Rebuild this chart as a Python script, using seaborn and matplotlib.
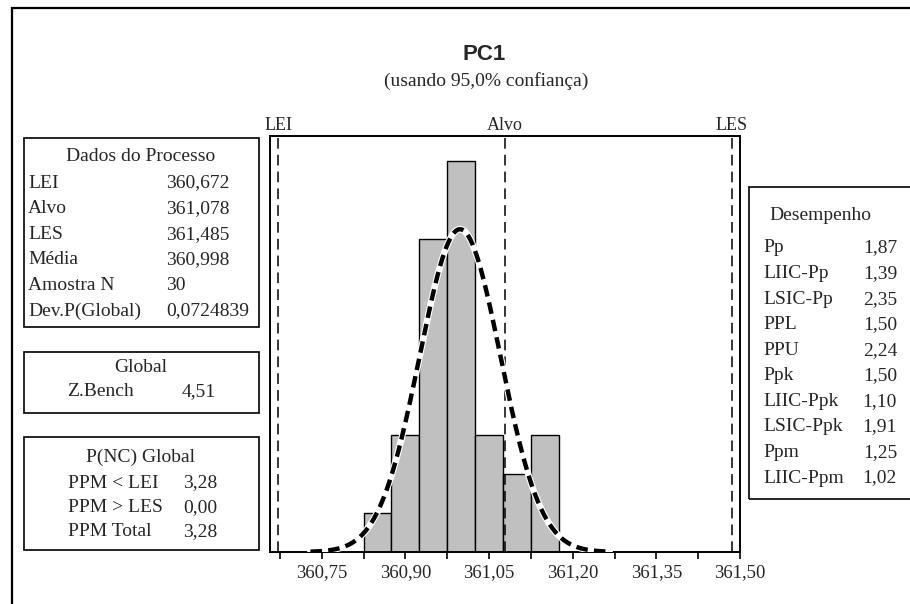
import numpy as np
import pandas as pd
import matplotlib
matplotlib.use("Agg")
import matplotlib.pyplot as plt
from matplotlib.patches import Rectangle
from matplotlib.ticker import FuncFormatter
import seaborn as sns

# ---- data ----
bin_centers = [360.85, 360.90, 360.95, 361.00, 361.05, 361.10, 361.15]
bin_counts = [1, 3, 8, 10, 3, 2, 3]
bin_width = 0.05

lei, alvo, les = 360.672, 361.078, 361.485
media, amostra_n, dev_global = 360.998, 30, 0.0724839

major_ticks = [360.75, 360.90, 361.05, 361.20, 361.35, 361.50]
minor_ticks = [360.675, 360.825, 360.975, 361.125, 361.275, 361.425]

proc_labels = ["LEI", "Alvo", "LES", "M\u00e9dia", "Amostra N", "Dev.P(Global)"]
proc_values = ["360,672", "361,078", "361,485", "360,998", "30", "0,0724839"]
global_labels = ["Z.Bench"]
global_values = ["4,51"]
pnc_labels = ["PPM < LEI", "PPM > LES", "PPM Total"]
pnc_values = ["3,28", "0,00", "3,28"]
perf_labels = ["Pp", "LIIC-Pp", "LSIC-Pp", "PPL", "PPU", "Ppk",
               "LIIC-Ppk", "LSIC-Ppk", "Ppm", "LIIC-Ppm"]
perf_values = ["1,87", "1,39", "2,35", "1,50", "2,24", "1,50",
               "1,10", "1,91", "1,25", "1,02"]

# ---- style ----
sns.set_style("white")
plt.rcParams["font.family"] = ["Liberation Serif", "DejaVu Serif"]

W, H = 910, 604
fig = plt.figure(figsize=(W / 100, H / 100), dpi=100)

def fx(px):
    return px / W

def fy(py):
    return 1 - py / H

# outer frame
fig.add_artist(Rectangle((fx(12), fy(640)), fx(960), fy(8) - fy(640),
                         transform=fig.transFigure, fill=False,
                         edgecolor="black", linewidth=1.6))

ax_l, ax_r, ax_t, ax_b = 270, 740, 136, 552
ax = fig.add_axes([fx(ax_l), fy(ax_b), fx(ax_r - ax_l), fy(ax_t) - fy(ax_b)])

df = pd.DataFrame({"x": bin_centers, "n": bin_counts})
edges = [c - bin_width / 2 for c in bin_centers] + [bin_centers[-1] + bin_width / 2]
sns.histplot(data=df, x="x", weights="n", bins=edges, ax=ax,
             color="#C0C0C0", edgecolor="black", linewidth=1.0, alpha=1.0)

# fitted normal curve (from the process mean / std dev in the table)
xs = np.linspace(media - 3.7 * dev_global, media + 3.7 * dev_global, 300)
ys = amostra_n * bin_width * np.exp(-0.5 * ((xs - media) / dev_global) ** 2) / (dev_global * np.sqrt(2 * np.pi))
curve = pd.DataFrame({"x": xs, "y": ys})
sns.lineplot(data=curve, x="x", y="y", ax=ax, color="white", linewidth=4.8, zorder=4)
sns.lineplot(data=curve, x="x", y="y", ax=ax, color="black", linewidth=3.2,
             zorder=5).lines[-1].set_dashes([2.6, 1.4])

# spec lines
for v, lab in [(lei, "LEI"), (alvo, "Alvo"), (les, "LES")]:
    ax.axvline(v, color="black", linewidth=1.1, dashes=(7, 4), zorder=3)
    ax.text(v, 1.004, lab, transform=ax.get_xaxis_transform(),
            ha="center", va="bottom", fontsize=13)

ax.set_xlim(360.6573, 361.50)
ax.set_ylim(0, 10.64)
ax.set_xlabel("")
ax.set_ylabel("")
ax.set_yticks([])
ax.set_xticks(major_ticks)
ax.set_xticks(minor_ticks, minor=True)
ax.xaxis.set_major_formatter(FuncFormatter(lambda v, p: f"{v:.2f}".replace(".", ",")))
ax.tick_params(axis="x", which="both", direction="out", length=5, width=1.2,
               color="black", labelsize=13.5, pad=4, bottom=True)
for s in ax.spines.values():
    s.set_visible(True)
    s.set_color("black")
    s.set_linewidth(1.4)

# title
fig.text(fx(484), fy(55), "PC1", ha="center", va="center", fontsize=16,
         fontweight="bold", family=["Liberation Sans", "DejaVu Sans"])
fig.text(fx(486), fy(81), "(usando 95,0% confian\u00e7a)", ha="center",
         va="center", fontsize=14)

def box(x0, y0, x1, y1):
    fig.add_artist(Rectangle((fx(x0), fy(y1)), fx(x1 - x0), fy(y0) - fy(y1),
                             transform=fig.transFigure, fill=False,
                             edgecolor="black", linewidth=1.2))

fs = 14
# Dados do Processo
box(24, 138, 259, 327)
fig.text(fx(141), fy(157), "Dados do Processo", ha="center", va="center", fontsize=fs)
for i, (l, v) in enumerate(zip(proc_labels, proc_values)):
    yy = 183 + i * 25.6
    fig.text(fx(28), fy(yy), l, ha="left", va="center", fontsize=fs)
    fig.text(fx(166), fy(yy), v, ha="left", va="center", fontsize=fs)

# Global
box(24, 352, 259, 413)
fig.text(fx(141), fy(368), "Global", ha="center", va="center", fontsize=fs)
for l, v in zip(global_labels, global_values):
    fig.text(fx(67), fy(392), l, ha="left", va="center", fontsize=fs)
    fig.text(fx(182), fy(392), v, ha="left", va="center", fontsize=fs)

# P(NC) Global
box(24, 437, 259, 550)
fig.text(fx(141), fy(457), "P(NC) Global", ha="center", va="center", fontsize=fs)
for i, (l, v) in enumerate(zip(pnc_labels, pnc_values)):
    yy = 483 + i * 24.5
    fig.text(fx(68), fy(yy), l, ha="left", va="center", fontsize=fs)
    fig.text(fx(183), fy(yy), v, ha="left", va="center", fontsize=fs)

# Desempenho
box(749, 187, 940, 499)
fig.text(fx(820), fy(215), "Desempenho", ha="center", va="center", fontsize=fs)
for i, (l, v) in enumerate(zip(perf_labels, perf_values)):
    yy = 248 + i * 25.56
    fig.text(fx(763), fy(yy), l, ha="left", va="center", fontsize=fs)
    fig.text(fx(897), fy(yy), v, ha="right", va="center", fontsize=fs)

fig.savefig("out.png", dpi=100, facecolor="white")
